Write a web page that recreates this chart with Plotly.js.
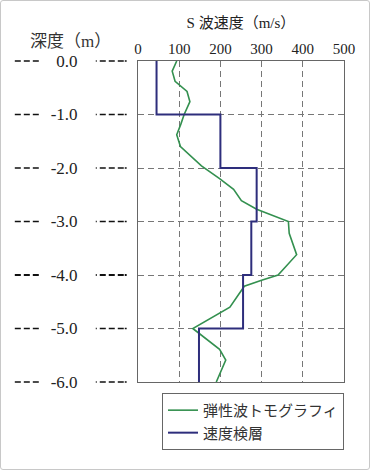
<!DOCTYPE html>
<html>
<head>
<meta charset="utf-8">
<script src="https://cdn.plot.ly/plotly-3.0.1.min.js"></script>
<style>
  html, body { margin: 0; padding: 0; background: #fff; }
  #wrap { position: relative; width: 370px; height: 470px; }
  #chart { position: absolute; left: 0; top: 0; width: 370px; height: 470px; }
  #frame { position: absolute; left: 0; top: 0; width: 370px; height: 470px; box-sizing: border-box;
           border: 1px solid #c8c8c8; border-radius: 3px; pointer-events: none; }
</style>
</head>
<body>
<div id="wrap"><div id="chart"></div><div id="frame"></div></div>
<script>
// ---- data ----
const seriesNames = ["弾性波トモグラフィ", "速度検層"];
// elastic wave tomography (velocity m/s vs depth m)
const tomoDepth = [0, -0.19, -0.38, -0.57, -0.76, -1.0, -1.18, -1.38, -1.6, -1.96, -2.2, -2.4, -2.61, -2.77, -3.0, -3.22, -3.62, -4.0, -4.1, -4.21, -4.6, -5.0, -5.39, -5.59, -6.0];
const tomoVel   = [94, 83, 90, 119, 126, 112, 104, 94, 103, 154, 198, 232, 251, 288, 365, 367, 385, 340, 300, 258, 223, 133, 198, 213, 190];
// velocity logging: layer tops and bottom, velocity of each layer
const layerTop  = [0, -1, -2, -3, -4, -5];
const layerBottom = -6;
const layerVel  = [45, 200, 288, 275, 255, 148];
// axes
const xTicks = [0, 100, 200, 300, 400, 500];
const yTicks = [0, -1, -2, -3, -4, -5, -6];
const yTickText = ["0.0", "-1.0", "-2.0", "-3.0", "-4.0", "-5.0", "-6.0"];
const xTitle = "S 波速度（m/s）";
const yTitle = "深度（m）";

// ---- build ----
const logX = layerVel.concat([layerVel[layerVel.length - 1]]);
const logY = layerTop.concat([layerBottom]);

const serif = "Liberation Serif, 'Times New Roman', 'Noto Sans CJK JP', serif";
const traces = [
  { x: tomoVel, y: tomoDepth, mode: "lines", name: seriesNames[0],
    line: { color: "#33904f", width: 1.6 } },
  { x: logX, y: logY, mode: "lines", name: seriesNames[1],
    line: { color: "#2e2e7c", width: 2, shape: "vh" } }
];

const yMin = -6, yMax = 0;
const shapes = [];
yTicks.forEach(function (v) {
  const fy = (v - yMin) / (yMax - yMin);
  const w = (v === -4) ? 2.2 : 1.6;
  shapes.push({ type: "line", xref: "paper", yref: "y domain", x0: -0.598, x1: -0.47, y0: fy, y1: fy,
    line: { color: "#111", width: w, dash: "6px,3px" } });
  shapes.push({ type: "line", xref: "paper", yref: "y domain", x0: -0.205, x1: -0.055, y0: fy, y1: fy,
    line: { color: "#111", width: w, dash: "1px,3px,6px,3px,6px,3px,6px" } });
});

const layout = {
  width: 370, height: 470,
  margin: { l: 138, r: 26, t: 61, b: 88 },
  paper_bgcolor: "#fff", plot_bgcolor: "#fff",
  font: { family: serif, color: "#222" },
  showlegend: true,
  legend: {
    x: 1, xanchor: "right", y: -0.034, yanchor: "top",
    bordercolor: "#666", borderwidth: 1, bgcolor: "#fff",
    font: { family: serif, size: 15, color: "#333" },
    itemwidth: 30
  },
  xaxis: {
    side: "top", range: [0, 500], tickvals: xTicks, ticktext: xTicks.map(String),
    showgrid: true, gridcolor: "#777", griddash: "6px,4px", gridwidth: 1,
    showline: true, linecolor: "#666", linewidth: 1, mirror: true,
    zeroline: false, ticks: "", tickfont: { family: serif, size: 15, color: "#222" },
    title: { text: xTitle, font: { family: serif, size: 15, color: "#222" }, standoff: 8 }
  },
  yaxis: {
    range: [yMin, yMax], tickvals: yTicks, ticktext: yTickText,
    showgrid: true, gridcolor: "#777", griddash: "6px,4px", gridwidth: 1,
    showline: true, linecolor: "#666", linewidth: 1, mirror: true,
    zeroline: false, ticks: "", ticklabelstandoff: 56,
    tickfont: { family: serif, size: 17, color: "#222" }
  },
  shapes: shapes,
  annotations: [
    { text: yTitle, xref: "paper", yref: "paper", x: -0.33, y: 1.06, xanchor: "center", yanchor: "middle",
      showarrow: false, font: { family: serif, size: 17, color: "#333" } }
  ]
};

Plotly.newPlot("chart", traces, layout, { displayModeBar: false, staticPlot: true });
</script>
</body>
</html>
